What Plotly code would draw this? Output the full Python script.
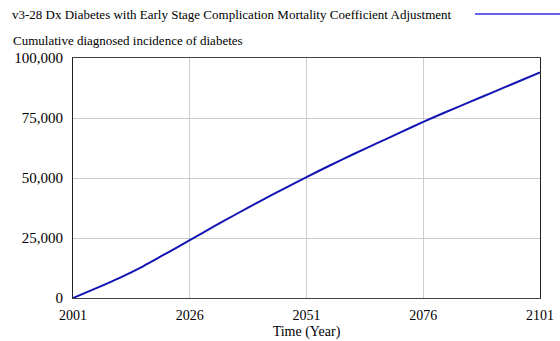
import plotly.graph_objects as go

years = [2001, 2006, 2011, 2016, 2021, 2026, 2031, 2036, 2041, 2046, 2051,
         2056, 2061, 2066, 2071, 2076, 2081, 2086, 2091, 2096, 2101]
incidence = [0, 4100, 8400, 13200, 18600, 24100, 29600, 35000, 40300, 45400, 50400,
             55200, 59900, 64400, 68900, 73400, 77600, 81700, 85800, 89900, 94000]
x_ticks = [2001, 2026, 2051, 2076, 2101]
y_ticks = [0, 25000, 50000, 75000, 100000]
y_tick_labels = ["0", "25,000", "50,000", "75,000", "100,000"]
run_name = "v3-28 Dx Diabetes with Early Stage Complication Mortality Coefficient Adjustment"
var_name = "Cumulative diagnosed incidence of diabetes"

LINE = "#1414b4"
FONT = "Liberation Serif, Times New Roman, serif"
PW, PH = 467, 240  # plot area size in px

fig = go.Figure()
fig.add_trace(go.Scatter(x=years, y=incidence, mode="lines",
                         line=dict(color=LINE, width=2, shape="spline", smoothing=0.6),
                         showlegend=False))

fig.update_layout(
    width=560, height=341,
    margin=dict(l=73, r=20, t=58, b=43),
    paper_bgcolor="white", plot_bgcolor="white",
    font=dict(family=FONT, size=14, color="black"),
    xaxis=dict(range=[2001, 2101], tickvals=x_ticks, ticktext=[str(v) for v in x_ticks],
               showgrid=True, gridcolor="#cccccc", gridwidth=1, zeroline=False,
               showline=True, linecolor="#444444", linewidth=1, mirror=True,
               automargin=False,
               ticks="", ticklen=0, ticklabelstandoff=4, tickfont=dict(size=14, family=FONT),
               title=dict(text="Time (Year)", font=dict(size=14, family=FONT), standoff=4)),
    yaxis=dict(range=[0, 100000], tickvals=y_ticks, ticktext=y_tick_labels,
               showgrid=True, gridcolor="#cccccc", gridwidth=1, zeroline=False,
               showline=True, linecolor="#222222", linewidth=1, mirror=True,
               automargin=False,
               ticks="", ticklen=0, ticklabelstandoff=6, tickfont=dict(size=15, family=FONT)),
)

fig.add_annotation(text=run_name, xref="paper", yref="paper",
                   x=-63/PW, y=1 + 44/PH, xanchor="left", yanchor="middle",
                   showarrow=False, font=dict(size=13, family=FONT))
fig.add_annotation(text=var_name, xref="paper", yref="paper",
                   x=-62/PW, y=1 + 18/PH, xanchor="left", yanchor="middle",
                   showarrow=False, font=dict(size=13, family=FONT))
fig.add_shape(type="line", xref="paper", yref="paper",
              x0=(475-73)/PW, x1=(560-73)/PW, y0=1 + 44/PH, y1=1 + 44/PH,
              line=dict(color="#3030e0", width=1.5))

fig.write_html("out.html", config={"displayModeBar": False},
               post_script="document.body.style.margin='0';document.body.style.overflow='hidden';")
